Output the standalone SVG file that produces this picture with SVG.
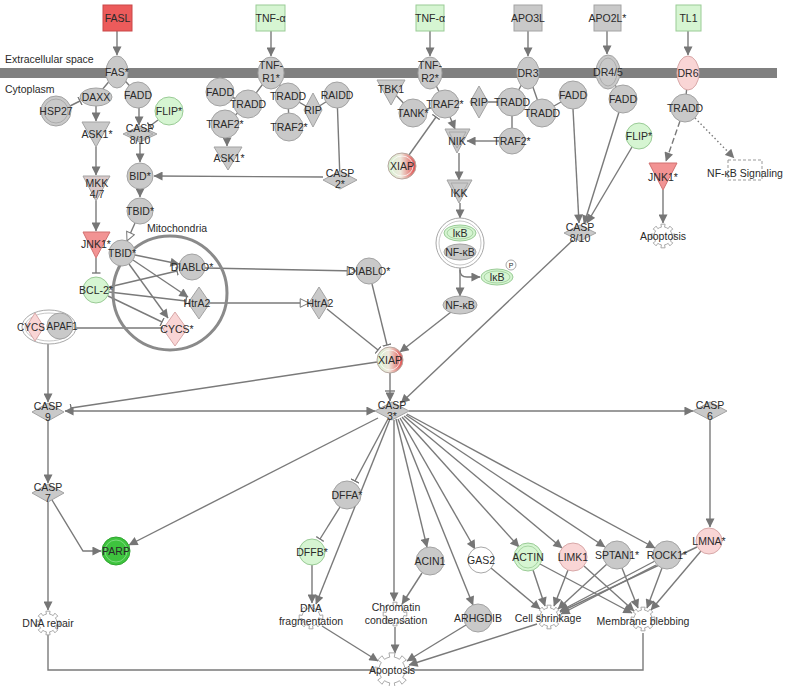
<svg xmlns="http://www.w3.org/2000/svg" width="786" height="686" viewBox="0 0 786 686">
<style>
text{font-family:"Liberation Sans",Arial,sans-serif;font-size:10.5px;fill:#2a2a2a;text-anchor:middle}
.l{text-anchor:start}
.g{fill:#c9c9c9;stroke:#a3a3a3;stroke-width:1}
.gr{fill:#d6f5d2;stroke:#9acb96;stroke-width:1}
.pk{fill:#f9d5d5;stroke:#d8a8a8;stroke-width:1}
.rd{fill:#ec5b5b;stroke:#c94848;stroke-width:1}
.jn{fill:#f29393;stroke:#d07070;stroke-width:1}
.w{fill:#fff;stroke:#a8a8a8;stroke-width:1}
.in{fill:none;stroke:#a3a3a3;stroke-width:0.8}
.e{fill:none;stroke:#7a7a7a;stroke-width:1.4}
.ar{marker-end:url(#a)}
.oa{marker-end:url(#o)}
.tb{marker-end:url(#t)}
.gear{fill:#fff;stroke:#a0a0a0;stroke-width:0.9}
</style>
<defs>
<marker id="a" viewBox="0 0 10 10" refX="9.5" refY="5" markerWidth="10" markerHeight="9" orient="auto-start-reverse" markerUnits="userSpaceOnUse"><path d="M0,0 L10,5 L0,10 z" fill="#767676"/></marker>
<marker id="o" viewBox="0 0 10 10" refX="9.5" refY="5" markerWidth="11" markerHeight="10" orient="auto" markerUnits="userSpaceOnUse"><path d="M0.7,0.7 L9.5,5 L0.7,9.3 z" fill="#fff" stroke="#767676" stroke-width="1"/></marker>
<marker id="t" viewBox="0 0 2 10" refX="1" refY="5" markerWidth="2" markerHeight="9" orient="auto" markerUnits="userSpaceOnUse"><path d="M1,0 V10" stroke="#767676" stroke-width="1.5"/></marker>
<linearGradient id="xg" x1="0" y1="0" x2="1" y2="0"><stop offset="0" stop-color="#d4f2d0"/><stop offset="0.45" stop-color="#eee8dc"/><stop offset="1" stop-color="#e04a4a"/></linearGradient>
<path id="gp" vector-effect="non-scaling-stroke" d="M8.87,-1.57 L11.82,-2.09 L11.82,2.09 L8.87,1.57 A9,9 0 0 1 7.37,5.17 L9.83,6.89 L6.89,9.83 L5.17,7.37 A9,9 0 0 1 1.57,8.87 L2.09,11.82 L-2.09,11.82 L-1.57,8.87 A9,9 0 0 1 -5.17,7.37 L-6.89,9.83 L-9.83,6.89 L-7.37,5.17 A9,9 0 0 1 -8.87,1.57 L-11.82,2.09 L-11.82,-2.09 L-8.87,-1.57 A9,9 0 0 1 -7.37,-5.17 L-9.83,-6.89 L-6.89,-9.83 L-5.17,-7.37 A9,9 0 0 1 -1.57,-8.87 L-2.09,-11.82 L2.09,-11.82 L1.57,-8.87 A9,9 0 0 1 5.17,-7.37 L6.89,-9.83 L9.83,-6.89 L7.37,-5.17 A9,9 0 0 1 8.87,-1.57 Z"/>
</defs>
<rect width="786" height="686" fill="#fff"/>
<g id="membrane">
<rect x="0" y="68" width="777" height="10" fill="#808080"/>
<text class="l" x="5" y="63">Extracellular space</text>
<text class="l" x="5" y="93">Cytoplasm</text>
</g>
<g id="connectors">
<path class="e" d="M117,72 L96,97 M117,72 L138,95 M271,73 L248,104 M271,73 L288,96 M220,92 L248,104 M248,104 L225,124 M288,96 L289,127 M288,96 L313,110 L337,95 M337,95 L340,180 M430,73 L445,104 M413,113 L445,104 M391,90 L413,113 M479,102 L512,102 M512,102 L528,73 M512,102 L512,141 M528,73 L542,113 M542,113 L573,95 M608,72 L623,99 M688,73 L685,108 M163,328 L70,328"/>
<path class="e ar" d="M117,31 V55"/>
<path class="e tb" d="M70,106 L80,101"/>
<path class="e ar" d="M96,106 V121"/>
<path class="e ar" d="M139,108 V125"/>
<path class="e tb" d="M158,120 L150,126"/>
<path class="e ar" d="M96,147 V175"/>
<path class="e ar" d="M140,142 V162"/>
<path class="e ar" d="M140,189 V197"/>
<path class="e ar" d="M96,201 V231"/>
<path class="e oa" d="M135,223 L127,241"/>
<path class="e tb" d="M96,258 V273"/>
<path class="e ar" d="M135,255 L179,264"/>
<path class="e ar" d="M133,260 L188,297"/>
<path class="e ar" d="M129,264 L168,318"/>
<path class="e tb" d="M109,287 L177,271"/>
<path class="e tb" d="M109,292 L186,301"/>
<path class="e tb" d="M108,296 L162,322"/>
<path class="e oa" d="M205,268 L356,271"/>
<path class="e oa" d="M210,303 L309,303"/>
<path class="e ar" d="M48,344 V402"/>
<path class="e ar" d="M271,31 V56"/>
<path class="e ar" d="M227,138 V146"/>
<path class="e ar" d="M323,177 L154,176"/>
<path class="e ar" d="M430,31 V56"/>
<path class="e tb" d="M409,155 L436,117"/>
<path class="e ar" d="M450,117 L455,129"/>
<path class="e ar" d="M499,141 L467,141"/>
<path class="e ar" d="M528,31 V56"/>
<path class="e ar" d="M459,153 V180"/>
<path class="e ar" d="M460,203 V218"/>
<path class="e ar" d="M460,268 V296"/>
<path class="e ar" d="M460,270 Q460,277 467,277 H480"/>
<path class="e ar" d="M451,312 L400,352"/>
<path class="e tb" d="M372,284 L387,345"/>
<path class="e tb" d="M327,309 L378,350"/>
<path class="e tb" d="M377,362 L71,408"/>
<path class="e ar" d="M375,411 H65" marker-start="url(#a)"/>
<path class="e ar" d="M390,373 V401"/>
<path class="e" d="M385,391 H395"/>
<path class="e ar" d="M573,109 L579,223"/>
<path class="e ar" d="M619,112 L584,224"/>
<path class="e ar" d="M632,147 L587,223"/>
<path class="e ar" d="M573,240 L401,403"/>
<path class="e ar" d="M607,31 V54"/>
<path class="e ar" d="M688,31 V55"/>
<path class="e ar" d="M680,121 L666,161" stroke-dasharray="6,3"/>
<path class="e ar" d="M695,118 L734,158" stroke-dasharray="1.5,2.5" stroke-width="1"/>
<path class="e ar" d="M663,190 V223"/>
<path class="e ar" d="M409,411 H693"/>
<path class="e ar" d="M710,420 V527"/>
<path class="e ar" d="M48,421 V483"/>
<path class="e ar" d="M48,502 V610"/>
<path class="e ar" d="M52,500 L83,551 H101"/>
<path class="e ar" d="M378,418 L129,545"/>
<path class="e tb" d="M388,419 L355,481"/>
<path class="e ar" d="M390,419 L316,604"/>
<path class="e tb" d="M340,507 L320,539"/>
<path class="e ar" d="M312,565 V603"/>
<path class="e ar" d="M394,420 V601"/>
<path class="e ar" d="M396,419 L427,547"/>
<path class="e ar" d="M422,573 L402,604"/>
<path class="e ar" d="M398,419 L473,605"/>
<path class="e ar" d="M400,418 L475,549"/>
<path class="e ar" d="M402,417 L519,547"/>
<path class="e ar" d="M404,416 L562,548"/>
<path class="e ar" d="M406,415 L605,547"/>
<path class="e ar" d="M407,414 L655,548"/>
<path class="e ar" d="M322,626 L378,661"/>
<path class="e ar" d="M395,627 V653"/>
<path class="e ar" d="M466,625 L407,661"/>
<path class="e ar" d="M537,624 L409,665"/>
<path class="e ar" d="M491,568 L540,609"/>
<path class="e ar" d="M533,570 L545,606"/>
<path class="e ar" d="M540,564 L632,613"/>
<path class="e ar" d="M568,570 L554,606"/>
<path class="e ar" d="M584,566 L634,611"/>
<path class="e ar" d="M607,564 L558,609"/>
<path class="e ar" d="M622,568 L638,608"/>
<path class="e ar" d="M655,561 L560,611"/>
<path class="e ar" d="M656,565 L561,614"/>
<path class="e ar" d="M662,568 L647,608"/>
<path class="e ar" d="M697,547 L560,612"/>
<path class="e ar" d="M701,551 L651,610"/>
<path class="e" d="M48,635 V670 H376 M643,633 V670 H408"/>
</g>
<g id="FASL"><rect class="rd" x="103" y="5" width="29" height="26"/><text x="117.5" y="22">FASL</text></g>
<g id="TNFa1"><rect class="gr" x="256" y="5" width="29" height="26"/><text x="270.5" y="22">TNF-α</text></g>
<g id="TNFa2"><rect class="gr" x="416" y="5" width="28" height="26"/><text x="430" y="22">TNF-α</text></g>
<g id="APO3L"><rect class="g" x="514" y="5" width="28" height="26"/><text x="528" y="22">APO3L</text></g>
<g id="APO2L"><rect class="g" x="594" y="5" width="27" height="26"/><text x="607.5" y="22">APO2L*</text></g>
<g id="TL1"><rect class="gr" x="676" y="5" width="25" height="26"/><text x="688.5" y="22">TL1</text></g>
<g id="FAS"><ellipse class="g" cx="117" cy="72" rx="11" ry="16"/><text x="117" y="76">FAS*</text></g>
<g id="TNFR1"><ellipse class="g" cx="271" cy="73" rx="13" ry="16"/><text x="271" y="69">TNF-</text><text x="271" y="82">R1*</text></g>
<g id="TNFR2"><ellipse class="g" cx="430" cy="73" rx="12" ry="16"/><text x="430" y="69">TNF-</text><text x="430" y="82">R2*</text></g>
<g id="DR3"><ellipse class="g" cx="528" cy="73" rx="11" ry="16"/><text x="528" y="77">DR3</text></g>
<g id="DR45"><ellipse class="g" cx="608" cy="72" rx="12" ry="17"/><ellipse class="in" cx="608" cy="72" rx="9" ry="14"/><text x="608" y="76">DR4/5</text></g>
<g id="DR6"><ellipse class="pk" cx="688" cy="73" rx="11" ry="17"/><text x="688" y="77">DR6</text></g>
<g id="DAXX"><ellipse class="g" cx="96" cy="97" rx="16" ry="9"/><text x="96" y="101">DAXX</text></g>
<g id="FADD1"><circle class="g" cx="138" cy="95" r="13"/><text x="138" y="99">FADD</text></g>
<g id="HSP27"><circle class="g" cx="56" cy="111" r="15"/><circle class="in" cx="56" cy="111" r="12"/><text x="56" y="115">HSP27</text></g>
<g id="FLIP1"><circle class="gr" cx="169" cy="111" r="14"/><text x="169" y="115">FLIP*</text></g>
<g id="ASK1a"><polygon class="g" points="82,122 110,122 96,147"/><text x="97" y="138">ASK1*</text></g>
<g id="CASP810a"><polygon class="g" points="123,134 140,126 157,134 140,142"/><polygon class="in" points="127,134 140,128 153,134 140,140"/><text x="140" y="132">CASP</text><text x="140" y="144">8/10</text></g>
<g id="BID"><circle class="g" cx="140" cy="176" r="13"/><text x="140" y="180">BID*</text></g>
<g id="MKK47"><polygon class="g" points="83,176 110,176 96,201" style="fill:#d8c9c9"/><text x="97" y="187">MKK</text><text x="97" y="198">4/7</text></g>
<g id="TBID1"><circle class="g" cx="140" cy="211" r="13"/><text x="140" y="215">TBID*</text></g>
<g id="JNK1a"><polygon class="jn" points="83,232 110,232 96,258"/><text x="96" y="248">JNK1*</text></g>
<g id="Mito"><circle cx="170" cy="293" r="57" fill="none" stroke="#8a8a8a" stroke-width="3"/><text x="177" y="232">Mitochondria</text></g>
<g id="TBID2"><circle class="g" cx="122" cy="253" r="13"/><text x="122" y="257">TBID*</text></g>
<g id="DIABLO1"><circle class="g" cx="192" cy="267" r="13"/><text x="192" y="271">DIABLO*</text></g>
<g id="BCL2"><circle class="gr" cx="96" cy="290" r="13"/><text x="96" y="294">BCL-2*</text></g>
<g id="HtrA2a"><polygon class="g" points="199,287 210,303 199,319 188,303"/><text x="197" y="307">HtrA2</text></g>
<g id="CYCS"><polygon class="pk" points="175,312 187,329 175,346 163,329"/><text x="177" y="333">CYCS*</text></g>
<g id="CYCSAPAF1"><ellipse class="w" cx="49" cy="327" rx="27" ry="17"/><ellipse class="in" cx="49" cy="327" rx="24" ry="14" style="stroke:#b8b8b8"/><polygon class="pk" points="35,313 44,327 35,341 26,327"/><circle class="g" cx="60" cy="326" r="13"/><text x="31" y="331" style="font-size:10px">CYCS</text><text x="62" y="330" style="font-size:10px">APAF1</text></g>
<g id="FADD2"><circle class="g" cx="220" cy="92" r="14"/><text x="220" y="96">FADD</text></g>
<g id="TRADD1"><circle class="g" cx="248" cy="104" r="14"/><text x="248" y="108">TRADD</text></g>
<g id="TRAF2a"><circle class="g" cx="225" cy="124" r="14"/><text x="225" y="128">TRAF2*</text></g>
<g id="ASK1b"><polygon class="g" points="214,147 242,147 228,170"/><text x="229" y="162">ASK1*</text></g>
<g id="TRADD2"><circle class="g" cx="288" cy="96" r="13"/><text x="288" y="100">TRADD</text></g>
<g id="RIP1"><polygon class="g" points="313,93 322,110 313,127 304,110"/><text x="313" y="114">RIP</text></g>
<g id="TRAF2b"><circle class="g" cx="289" cy="127" r="14"/><text x="289" y="131">TRAF2*</text></g>
<g id="RAIDD"><circle class="g" cx="337" cy="95" r="13"/><text x="337" y="99">RAIDD</text></g>
<g id="CASP2"><polygon class="g" points="323,180 340,171 357,180 340,189"/><text x="340" y="177">CASP</text><text x="340" y="188">2*</text></g>
<g id="TBK1"><polygon class="g" points="377,80 405,80 391,105"/><text x="391" y="93">TBK1</text></g>
<g id="TANK"><circle class="g" cx="413" cy="113" r="14"/><text x="413" y="117">TANK*</text></g>
<g id="TRAF2c"><circle class="g" cx="445" cy="104" r="14"/><text x="445" y="108">TRAF2*</text></g>
<g id="XIAP1"><ellipse cx="402" cy="166" rx="14" ry="13" fill="url(#xg)" stroke="#b8a8a0"/><ellipse cx="402" cy="166" rx="11" ry="10" fill="none" stroke="#fff" stroke-opacity="0.7"/><text x="402" y="170">XIAP</text></g>
<g id="NIK"><polygon class="g" points="445,129 470,129 457,153"/><polygon class="in" points="449,132 466,132 457,148"/><text x="457" y="145">NIK</text></g>
<g id="RIP2"><polygon class="g" points="479,86 488,102 479,118 470,102"/><text x="479" y="106">RIP</text></g>
<g id="TRADD3"><circle class="g" cx="512" cy="102" r="14"/><text x="512" y="106">TRADD</text></g>
<g id="TRADD4"><circle class="g" cx="542" cy="113" r="14"/><text x="542" y="117">TRADD</text></g>
<g id="TRAF2d"><circle class="g" cx="512" cy="141" r="13"/><text x="512" y="145">TRAF2*</text></g>
<g id="IKK"><polygon class="g" points="447,180 472,180 459,203"/><polygon class="in" points="451,183 468,183 459,198"/><text x="459" y="197">IKK</text></g>
<g id="IkBNFkB"><ellipse class="w" cx="460" cy="243" rx="24" ry="25"/><ellipse class="in" cx="460" cy="243" rx="21" ry="22" style="stroke:#b8b8b8"/><ellipse class="gr" cx="460" cy="233" rx="16" ry="8"/><ellipse class="in" cx="460" cy="233" rx="13" ry="6" style="stroke:#9acb96"/><ellipse class="g" cx="460" cy="252" rx="16" ry="8"/><text x="460" y="237">IκB</text><text x="460" y="256">NF-κB</text></g>
<g id="IkBP"><ellipse class="gr" cx="497" cy="277" rx="16" ry="8"/><ellipse class="in" cx="497" cy="277" rx="13" ry="6" style="stroke:#9acb96"/><circle class="w" cx="511" cy="265" r="5"/><text x="511" y="268" style="font-size:7px">P</text><text x="497" y="281">IκB</text></g>
<g id="NFkB"><ellipse class="g" cx="460" cy="305" rx="17" ry="9"/><text x="460" y="309">NF-κB</text></g>
<g id="FADD3"><circle class="g" cx="573" cy="95" r="14"/><text x="573" y="99">FADD</text></g>
<g id="FADD4"><circle class="g" cx="623" cy="99" r="14"/><text x="623" y="103">FADD</text></g>
<g id="FLIP2"><circle class="gr" cx="639" cy="136" r="13"/><text x="639" y="140">FLIP*</text></g>
<g id="TRADD5"><circle class="g" cx="685" cy="108" r="14"/><text x="685" y="112">TRADD</text></g>
<g id="JNK1b"><polygon class="jn" points="649,163 677,163 663,190"/><text x="663" y="181">JNK1*</text></g>
<g id="NFkBSignaling"><rect x="728" y="160" width="34" height="20" fill="none" stroke="#999" stroke-dasharray="3,2"/><text x="745" y="177">NF-κB Signaling</text></g>
<g id="Apoptosis1"><use href="#gp" class="gear" transform="translate(663,236)"/><text x="663" y="240">Apoptosis</text></g>
<g id="CASP810b"><polygon class="g" points="564,233 580,225 596,233 580,241"/><text x="580" y="231">CASP</text><text x="580" y="242">8/10</text></g>
<g id="DIABLO2"><circle class="g" cx="369" cy="271" r="13"/><text x="369" y="275">DIABLO*</text></g>
<g id="HtrA2b"><polygon class="g" points="319,287 329,303 319,319 309,303"/><text x="320" y="307">HtrA2</text></g>
<g id="XIAP2"><circle cx="390" cy="360" r="13" fill="url(#xg)" stroke="#b8a8a0"/><circle cx="390" cy="360" r="10" fill="none" stroke="#fff" stroke-opacity="0.7"/><text x="390" y="364">XIAP</text></g>
<g id="CASP9"><polygon class="g" points="32,412 48,403 64,412 48,421"/><text x="48" y="410">CASP</text><text x="48" y="421">9</text></g>
<g id="CASP3"><polygon class="g" points="375,411 392,402 409,411 392,420"/><text x="392" y="409">CASP</text><text x="392" y="420">3*</text></g>
<g id="CASP6"><polygon class="g" points="693,411 710,402 727,411 710,420"/><text x="710" y="409">CASP</text><text x="710" y="420">6</text></g>
<g id="CASP7"><polygon class="g" points="32,493 48,484 64,493 48,502"/><text x="48" y="491">CASP</text><text x="48" y="502">7</text></g>
<g id="PARP"><circle cx="116" cy="551" r="14" fill="#3ec43e" stroke="#2fa52f"/><circle cx="116" cy="551" r="11" fill="none" stroke="#8ee08e" stroke-width="0.8"/><text x="116" y="555">PARP</text></g>
<g id="DNArepair"><use href="#gp" class="gear" transform="translate(48,623)"/><text x="48" y="627">DNA repair</text></g>
<g id="DFFA"><circle class="g" cx="347" cy="495" r="14"/><text x="347" y="499">DFFA*</text></g>
<g id="DFFB"><circle class="gr" cx="312" cy="552" r="13"/><text x="312" y="556">DFFB*</text></g>
<g id="DNAfrag"><use href="#gp" class="gear" transform="translate(311,617)"/><text x="311" y="612">DNA</text><text x="311" y="625">fragmentation</text></g>
<g id="ACIN1"><circle class="g" cx="430" cy="561" r="14"/><text x="430" y="565">ACIN1</text></g>
<g id="GAS2"><circle class="w" cx="481" cy="560" r="13"/><text x="481" y="564">GAS2</text></g>
<g id="Chromatin"><use href="#gp" class="gear" transform="translate(395,614)"/><text x="396" y="611">Chromatin</text><text x="396" y="624">condensation</text></g>
<g id="ARHGDIB"><circle class="g" cx="478" cy="618" r="14"/><text x="478" y="622">ARHGDIB</text></g>
<g id="ACTIN"><circle class="gr" cx="528" cy="557" r="14"/><circle class="in" cx="528" cy="557" r="11" style="stroke:#9acb96"/><text x="528" y="561">ACTIN</text></g>
<g id="LIMK1"><circle class="pk" cx="573" cy="557" r="14"/><text x="573" y="561">LIMK1</text></g>
<g id="SPTAN1"><circle class="g" cx="617" cy="555" r="14"/><text x="617" y="559">SPTAN1*</text></g>
<g id="ROCK1"><circle class="g" cx="667" cy="555" r="14"/><text x="667" y="559">ROCK1*</text></g>
<g id="LMNA"><circle class="pk" cx="709" cy="541" r="13"/><text x="709" y="545">LMNA*</text></g>
<g id="CellShrinkage"><use href="#gp" class="gear" transform="translate(549,617)"/><text x="548" y="622">Cell shrinkage</text></g>
<g id="MembraneBlebbing"><use href="#gp" class="gear" transform="translate(643,619)"/><text x="643" y="625">Membrane blebbing</text></g>
<g id="Apoptosis2"><use href="#gp" class="gear" transform="translate(392,670) scale(1.45)"/><text x="392" y="674">Apoptosis</text></g>
</svg>
